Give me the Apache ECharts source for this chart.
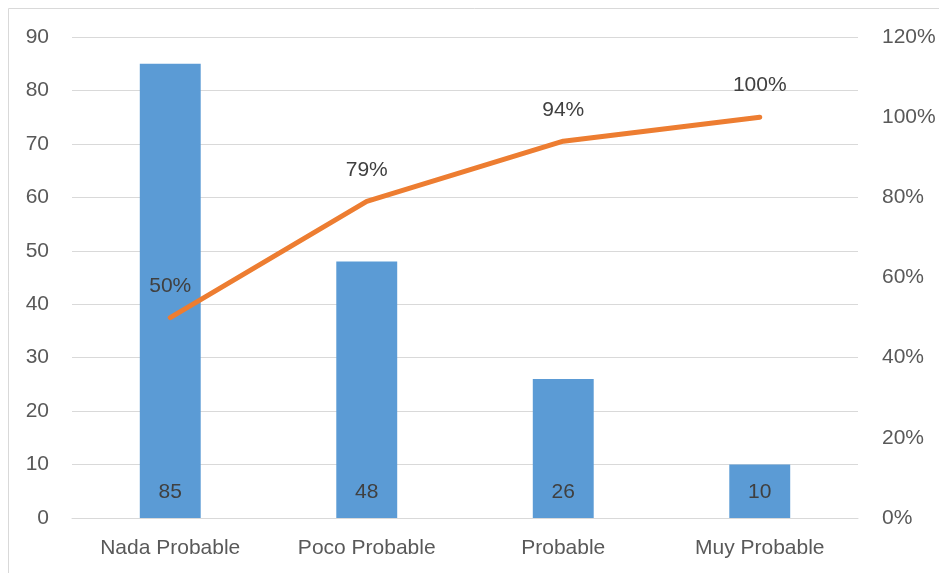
<!DOCTYPE html>
<html><head><meta charset="utf-8">
<script src="https://cdn.jsdelivr.net/npm/echarts@6/dist/echarts.min.js"></script>
<style>html,body{margin:0;padding:0;background:#fff}#c{width:939px;height:573px}</style>
</head><body><div id="c"></div>
<script>
const categories = ['Nada Probable', 'Poco Probable', 'Probable', 'Muy Probable'];
const counts = [85, 48, 26, 10];
const cumulativePct = [50, 79, 94, 100];
const leftTicks = [0, 10, 20, 30, 40, 50, 60, 70, 80, 90];
const rightTicks = ['0%', '20%', '40%', '60%', '80%', '100%', '120%'];

const FONT = '"Liberation Sans", Arial, sans-serif';
const TXT = '#595959';
const FS = 21;
const chart = echarts.init(document.getElementById('c'), null, {renderer: 'canvas'});
chart.setOption({
  animation: false,
  graphic: [{type: 'rect', shape: {x: 8.5, y: 8.5, width: 940, height: 580}, style: {fill: 'none', stroke: '#d9d9d9', lineWidth: 1}, silent: true}],
  grid: {left: 72, right: 81, top: 37, bottom: 55},
  xAxis: {
    type: 'category', data: categories,
    axisLine: {lineStyle: {color: '#d9d9d9', width: 1}},
    axisTick: {show: false},
    axisLabel: {color: TXT, fontSize: FS, fontFamily: FONT, margin: 20}
  },
  yAxis: [{
    type: 'value', min: leftTicks[0], max: leftTicks[leftTicks.length - 1], interval: 10,
    axisLine: {show: false}, axisTick: {show: false},
    splitLine: {lineStyle: {color: '#d9d9d9', width: 1}},
    axisLabel: {color: TXT, fontSize: FS, fontFamily: FONT, margin: 23}
  }, {
    type: 'value', min: 0, max: 120, interval: 20,
    axisLine: {show: false}, axisTick: {show: false}, splitLine: {show: false},
    axisLabel: {color: TXT, fontSize: FS, fontFamily: FONT, margin: 24, align: 'left',
      formatter: v => rightTicks[Math.round(v / 20)]}
  }],
  series: [{
    type: 'bar', data: counts, barWidth: '31%',
    itemStyle: {color: '#5B9BD5'},
    label: {show: true, position: 'insideBottom', distance: 15, color: '#404040', fontSize: FS, fontFamily: FONT}
  }, {
    type: 'line', yAxisIndex: 1, data: cumulativePct,
    showSymbol: true, symbol: 'circle', symbolSize: 2,
    itemStyle: {color: '#ED7D31'},
    lineStyle: {color: '#ED7D31', width: 5, cap: 'round', join: 'round'},
    label: {show: true, position: 'top', distance: 20, color: '#404040', fontSize: FS, fontFamily: FONT, formatter: p => p.value + '%'}
  }]
});
</script></body></html>
